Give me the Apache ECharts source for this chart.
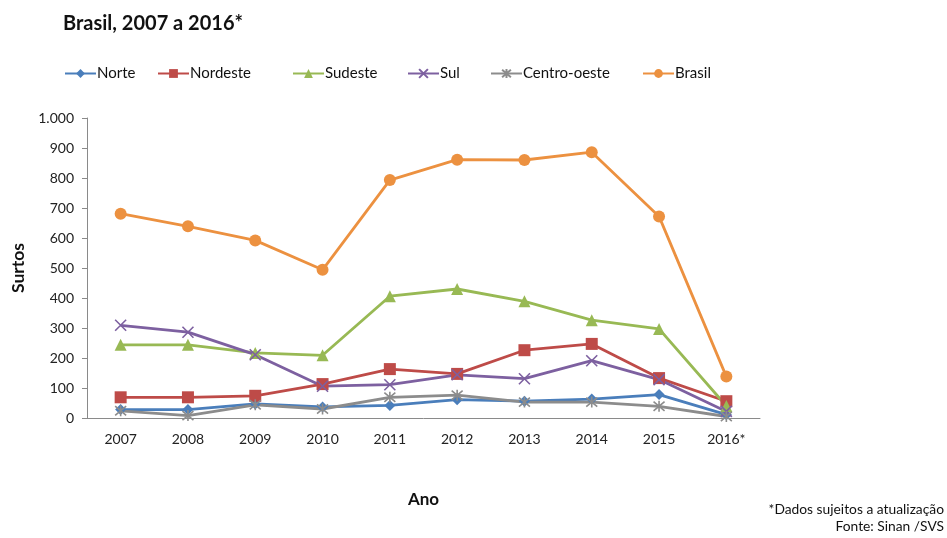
<!DOCTYPE html>
<html>
<head>
<meta charset="utf-8">
<script src="https://cdn.jsdelivr.net/npm/echarts@6/dist/echarts.min.js"></script>
<style>
  html, body { margin: 0; padding: 0; background: #fff; }
  #chart { width: 947px; height: 538px; }
</style>
</head>
<body>
<div id="chart"></div>
<script>
// Surtos por região, 2007 a 2016*
const anos = ['2007', '2008', '2009', '2010', '2011', '2012', '2013', '2014', '2015', '2016*'];
const norte       = [28, 28, 47, 37, 42, 61, 56, 63, 78, 11];
const nordeste    = [69, 69, 74, 113, 163, 147, 226, 247, 133, 56];
const sudeste     = [244, 244, 217, 209, 406, 430, 389, 326, 297, 40];
const sul         = [309, 286, 211, 106, 111, 144, 131, 191, 128, 22];
const centroOeste = [24, 8, 44, 30, 69, 76, 53, 53, 39, 5];
const brasil      = [681, 639, 592, 494, 793, 861, 860, 886, 672, 138];
const regioes = ['Norte', 'Nordeste', 'Sudeste', 'Sul', 'Centro-oeste', 'Brasil'];
const yTicks = [0, 100, 200, 300, 400, 500, 600, 700, 800, 900, 1000];

const FONT = 'Lato, "Open Sans", sans-serif';
const X_PATH = 'path://M0,0 L10,10 M10,0 L0,10';
const STAR_PATH = 'path://M0,0 L10,10 M10,0 L0,10 M5,-1 L5,11';

function serie(nome, dados, cor, simbolo, tamanho, contorno) {
  return {
    name: nome,
    type: 'line',
    data: dados,
    symbol: simbolo,
    symbolSize: tamanho,
    showAllSymbol: true,
    lineStyle: { color: cor, width: 2.8 },
    itemStyle: contorno
      ? { color: cor, borderColor: cor, borderWidth: 1.6 }
      : { color: cor },
    emphasis: { disabled: true }
  };
}

// one legend block per region, laid out in fixed slots
const legendLeft = [59, 152, 287, 402, 485, 637];
const legends = regioes.map((nome, i) => ({
  left: legendLeft[i], top: 61,
  itemWidth: 31, itemHeight: 11,
  textStyle: { fontFamily: FONT, fontSize: 15, color: '#111', padding: [0, 0, 0, -4] },
  data: [nome]
}));

const milhar = v => v >= 1000
  ? Math.floor(v / 1000) + '.' + String(v % 1000).padStart(3, '0')
  : String(v);

const chart = echarts.init(document.getElementById('chart'), null, { renderer: 'canvas' });
chart.setOption({
  animation: false,
  backgroundColor: '#ffffff',
  textStyle: { fontFamily: FONT },
  title: {
    text: 'Brasil, 2007 a 2016*',
    left: 58, top: 9,
    textStyle: { fontFamily: FONT, fontSize: 20, fontWeight: 'bold', color: '#111' }
  },
  legend: legends,
  grid: { left: 87, right: 187, top: 118, bottom: 120, containLabel: false },
  xAxis: {
    type: 'category',
    data: anos,
    boundaryGap: true,
    name: 'Ano',
    nameLocation: 'middle',
    nameGap: 73,
    nameTextStyle: { fontFamily: FONT, fontSize: 17, fontWeight: 'bold', color: '#111' },
    axisLine: { lineStyle: { color: '#8a8a8a', width: 1 } },
    axisTick: { show: false },
    axisLabel: { fontFamily: FONT, fontSize: 14, color: '#222', margin: 14 }
  },
  yAxis: {
    type: 'value',
    min: yTicks[0], max: yTicks[yTicks.length - 1], interval: 100,
    name: 'Surtos',
    nameLocation: 'middle',
    nameGap: 60,
    nameTextStyle: { fontFamily: FONT, fontSize: 17.5, fontWeight: 'bold', color: '#111' },
    axisLine: { show: true, lineStyle: { color: '#8a8a8a', width: 1 } },
    axisTick: { show: true, length: 5, lineStyle: { color: '#8a8a8a' } },
    splitLine: { show: false },
    axisLabel: { fontFamily: FONT, fontSize: 14, color: '#222', margin: 13, formatter: milhar }
  },
  series: [
    serie(regioes[0], norte, '#4a7ebb', 'diamond', 11, false),
    serie(regioes[1], nordeste, '#be4b48', 'rect', 12, false),
    serie(regioes[2], sudeste, '#98b954', 'triangle', 12, false),
    serie(regioes[3], sul, '#7d60a0', X_PATH, 11, true),
    serie(regioes[4], centroOeste, '#8c8c8c', STAR_PATH, 11, true),
    serie(regioes[5], brasil, '#ec9140', 'circle', 12, false)
  ],
  graphic: [
    {
      type: 'text', right: 3, top: 503,
      style: { text: '*Dados sujeitos a atualização', font: '13.8px ' + FONT, fill: '#111', textAlign: 'right' }
    },
    {
      type: 'text', right: 3, top: 520,
      style: { text: 'Fonte: Sinan /SVS', font: '13.8px ' + FONT, fill: '#111', textAlign: 'right' }
    }
  ]
});
</script>
</body>
</html>
